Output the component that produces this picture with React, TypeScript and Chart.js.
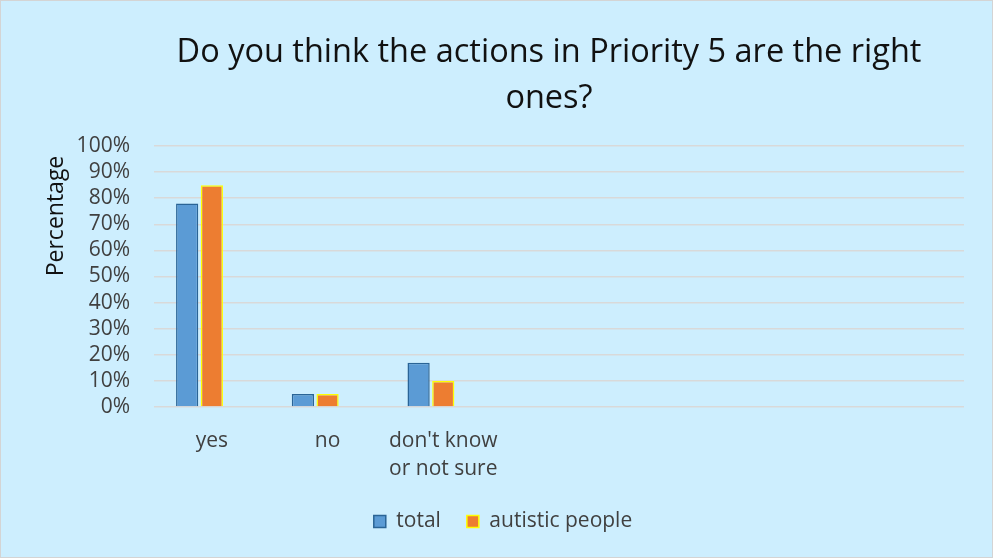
import React, { useEffect, useRef } from "react";
import { Chart, registerables } from "chart.js";

Chart.register(...registerables);

const categories: (string | string[])[] = ["yes", "no", ["don't know", "or not sure"], "", "", "", ""];
const totalValues = [78, 5, 17, null, null, null, null];
const autisticValues = [85, 5, 10, null, null, null, null];
const emptyValues = [null, null, null, null, null, null, null];
const seriesNames = ["total", "autistic people", ""];
const titleLines = ["Do you think the actions in Priority 5 are the right", "ones?"];
const yAxisTitle = "Percentage";

const FONT = "'Open Sans', Lato, sans-serif";

const overlayPlugin = {
  id: "overlayText",
  afterDraw(chart: any) {
    const ctx = chart.ctx;
    ctx.save();
    ctx.fillStyle = "#111111";
    ctx.font = `32.5px ${FONT}`;
    ctx.textAlign = "center";
    ctx.textBaseline = "middle";
    titleLines.forEach((line, i) => ctx.fillText(line, 548, 52 + i * 46));
    ctx.translate(55, 215);
    ctx.rotate(-Math.PI / 2);
    ctx.font = `23px ${FONT}`;
    ctx.fillStyle = "#111111";
    ctx.fillText(yAxisTitle, 0, 0);
    ctx.restore();
  },
};

export default function App() {
  const ref = useRef<HTMLCanvasElement>(null);
  useEffect(() => {
    const chart = new Chart(ref.current!, {
      type: "bar",
      data: {
        labels: categories,
        datasets: [
          {
            label: seriesNames[0],
            data: totalValues,
            backgroundColor: "#5b9bd5",
            borderColor: "#2a6496",
            borderWidth: 1.5,
            categoryPercentage: 0.64,
            barPercentage: 0.9,
          },
          {
            label: seriesNames[1],
            data: autisticValues,
            backgroundColor: "#ed7d31",
            borderColor: "#ffff00",
            borderWidth: 1.5,
            categoryPercentage: 0.64,
            barPercentage: 0.9,
          },
          {
            label: seriesNames[2],
            data: emptyValues,
            backgroundColor: "#a5a5a5",
            categoryPercentage: 0.64,
            barPercentage: 0.9,
          },
        ],
      },
      options: {
        animation: false,
        responsive: false,
        layout: { padding: { top: 145, left: 41, right: 28, bottom: 15 } },
        scales: {
          x: {
            grid: { display: false, drawTicks: false },
            border: { display: false },
            ticks: { color: "#404040", font: { size: 21, family: FONT, lineHeight: 1.33 }, padding: 20, maxRotation: 0, autoSkip: false },
            afterFit: (s: any) => { s.height = 78; },
          },
          y: {
            min: 0,
            max: 100,
            grid: { color: "#d9d9d9", lineWidth: 1.5, drawTicks: false },
            border: { display: false },
            ticks: {
              stepSize: 10,
              autoSkip: false,
              color: "#404040",
              font: { size: 21, family: FONT },
              padding: 24,
              callback: (v: any) => v + "%",
            },
            afterFit: (s: any) => { s.width = 112; },
          },
        },
        plugins: {
          title: { display: false },
          tooltip: { enabled: false },
          legend: {
            position: "bottom",
            labels: {
              boxWidth: 12,
              boxHeight: 12,
              padding: 26,
              color: "#404040",
              font: { size: 21, family: FONT },
              filter: (item: any) => item.datasetIndex < 2,
            },
          },
        },
      },
      plugins: [overlayPlugin],
    });
    return () => chart.destroy();
  }, []);
  return (
    <div style={{ position: "fixed", left: 0, top: 0, width: 993, height: 558, background: "#cdeefe", boxSizing: "border-box", border: "1px solid #d4d4d4" }}>
      <canvas ref={ref} width={991} height={556} style={{ display: "block" }} />
    </div>
  );
}
